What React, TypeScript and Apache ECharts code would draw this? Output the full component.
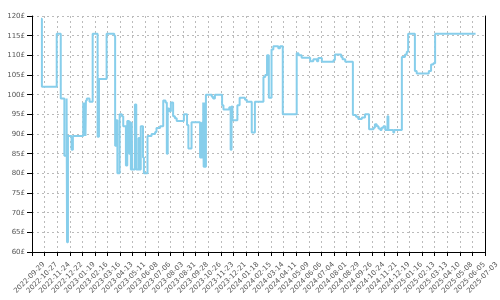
import React, { useEffect, useRef } from "react";
import * as echarts from "echarts";

const START_DATE = "2022-09-29";
const END_DATE = "2025-07-03";
const TICK_DAYS = 28;
const Y_MIN = 60;
const Y_MAX = 120;
const Y_STEP = 5;

const dates = [
  "2022-10-19", "2022-10-21", "2022-11-23", "2022-12-02", "2022-12-10", "2022-12-15", "2022-12-16", "2022-12-18",
  "2022-12-26", "2022-12-29", "2023-01-21", "2023-01-22", "2023-01-23", "2023-01-24", "2023-01-25", "2023-01-26",
  "2023-01-27", "2023-01-29", "2023-02-04", "2023-02-11", "2023-02-22", "2023-02-25", "2023-03-14", "2023-03-31",
  "2023-04-02", "2023-04-04", "2023-04-07", "2023-04-12", "2023-04-17", "2023-04-20", "2023-04-26", "2023-04-29",
  "2023-05-03", "2023-05-05", "2023-05-07", "2023-05-09", "2023-05-10", "2023-05-16", "2023-05-19", "2023-05-24",
  "2023-05-26", "2023-05-29", "2023-06-03", "2023-06-05", "2023-06-13", "2023-06-22", "2023-06-30", "2023-07-03",
  "2023-07-11", "2023-07-18", "2023-07-23", "2023-07-26", "2023-07-28", "2023-07-31", "2023-08-04", "2023-08-09",
  "2023-08-13", "2023-08-17", "2023-09-02", "2023-09-09", "2023-09-12", "2023-09-19", "2023-10-08", "2023-10-10",
  "2023-10-11", "2023-10-13", "2023-10-15", "2023-10-16", "2023-10-18", "2023-10-19", "2023-10-21", "2023-11-03",
  "2023-11-06", "2023-11-10", "2023-11-26", "2023-11-29", "2023-12-12", "2023-12-15", "2023-12-17", "2023-12-19",
  "2023-12-30", "2024-01-04", "2024-01-16", "2024-01-20", "2024-01-31", "2024-02-07", "2024-02-26", "2024-03-01",
  "2024-03-05", "2024-03-09", "2024-03-15", "2024-03-19", "2024-03-30", "2024-04-03", "2024-04-09", "2024-05-10",
  "2024-05-14", "2024-05-21", "2024-06-09", "2024-06-16", "2024-06-24", "2024-06-27", "2024-07-05", "2024-07-31",
  "2024-08-03", "2024-08-17", "2024-08-20", "2024-08-26", "2024-09-12", "2024-09-19", "2024-09-24", "2024-10-02",
  "2024-10-09", "2024-10-18", "2024-10-28", "2024-10-31", "2024-11-04", "2024-11-08", "2024-11-12", "2024-11-15",
  "2024-11-19", "2024-11-23", "2024-11-28", "2024-11-30", "2024-12-11", "2024-12-13", "2024-12-30", "2025-01-06",
  "2025-01-10", "2025-01-13", "2025-01-28", "2025-02-01", "2025-02-28", "2025-03-05", "2025-03-10", "2025-03-14",
  "2025-06-12",
];

const prices = [
  119.3, 102, 115.5, 99, 84.5, 99, 62.5, 89.5,
  86, 89.5, 98, 89.5, 98, 89.5, 98, 89.5,
  98.5, 99, 98.2, 115.5, 89.3, 104, 115.5, 115,
  87, 93.5, 80, 95, 94.5, 92, 82, 93.3,
  85, 93, 81, 93, 81, 97.5, 81, 89,
  81, 92, 84, 80, 89.5, 90, 90.5, 91.5,
  92, 98.5, 98, 85, 96.5, 95.8, 98, 94.5,
  94, 93.3, 95, 92.3, 86.3, 93, 84, 93,
  84, 93, 98, 81.7, 98, 81.7, 100, 99.5,
  99, 100, 97.3, 96.2, 96.8, 86, 97, 93.5,
  97.3, 99.2, 98.7, 98.2, 90.4, 98.2, 104.5, 105,
  110, 99.2, 111.5, 112.3, 111.8, 112.3, 95, 110.5,
  110, 109.4, 108.5, 109, 108.5, 109.3, 108.4, 108.8,
  110.2, 109.6, 109, 108.4, 94.8, 94.4, 93.8, 94.2,
  95, 91.2, 91.6, 92.5, 92, 91.4, 91, 91.6,
  92, 91, 94.5, 91, 90.4, 91, 109.6, 110.2,
  110.9, 115.5, 106, 105.4, 106, 107.7, 108, 115.5,
  115.5,
];

const DAY_MS = 86400000;
const toUTC = (s: string) => {
  const [y, m, d] = s.split("-").map(Number);
  return Date.UTC(y, m - 1, d);
};
const START_MS = toUTC(START_DATE);
const dayOf = (s: string) => Math.round((toUTC(s) - START_MS) / DAY_MS);
const fmtDay = (day: number) => new Date(START_MS + day * DAY_MS).toISOString().slice(0, 10);

const FONT = "DejaVu Sans";
const LABEL_COLOR = "#555";

export default function App() {
  const ref = useRef<HTMLDivElement>(null);

  useEffect(() => {
    if (!ref.current) return;
    const chart = echarts.init(ref.current, null, { renderer: "svg" });
    const seriesData = dates.map((d, i) => [dayOf(d), prices[i]]);
    const maxDay = dayOf(END_DATE);

    chart.setOption({
      animation: false,
      grid: { left: 32, right: 15, top: 16, bottom: 48, containLabel: false, outerBoundsMode: "none" },
      xAxis: {
        type: "value",
        min: 0,
        max: maxDay,
        interval: TICK_DAYS,
        axisLine: { show: true, onZero: false, lineStyle: { color: "#000", width: 1 } },
        axisTick: { show: true, length: 4, lineStyle: { color: "#000" } },
        axisLabel: {
          rotate: 45,
          fontFamily: FONT,
          fontSize: 7,
          color: LABEL_COLOR,
          margin: 23,
          showMinLabel: true,
          showMaxLabel: true,
          hideOverlap: false,
          formatter: (v: number) => `{d|${fmtDay(v)}}`,
          rich: {
            d: {
              width: 24,
              align: "left",
              fontFamily: FONT,
              fontSize: 7,
              color: LABEL_COLOR,
            },
          },
        },
        splitLine: { show: true, lineStyle: { color: "#bbb", type: [2, 3], width: 1 } },
      },
      yAxis: [
        {
          type: "value",
          min: Y_MIN,
          max: Y_MAX,
          interval: Y_STEP,
          axisLine: { show: true, lineStyle: { color: "#000", width: 1 } },
          axisTick: { show: true, length: 5, lineStyle: { color: "#000" } },
          axisLabel: {
            fontFamily: FONT,
            fontSize: 7,
            color: LABEL_COLOR,
            margin: 7,
            formatter: (v: number) => `${v}£`,
          },
          splitLine: { show: true, lineStyle: { color: "#bbb", type: [2, 3], width: 1 } },
        },
        {
          type: "value",
          position: "right",
          min: Y_MIN,
          max: Y_MAX,
          interval: Y_STEP,
          axisLine: { show: true, lineStyle: { color: "#000", width: 1 } },
          axisTick: { show: false },
          axisLabel: { show: false },
          splitLine: { show: false },
        },
      ],
      series: [
        {
          type: "line",
          step: "end",
          showSymbol: false,
          data: seriesData,
          lineStyle: { color: "#87CEEB", width: 2 },
          itemStyle: { color: "#87CEEB" },
        },
      ],
    });

    return () => chart.dispose();
  }, []);

  return (
    <div
      ref={ref}
      style={{ position: "fixed", left: 0, top: 0, width: 500, height: 300 }}
    />
  );
}
